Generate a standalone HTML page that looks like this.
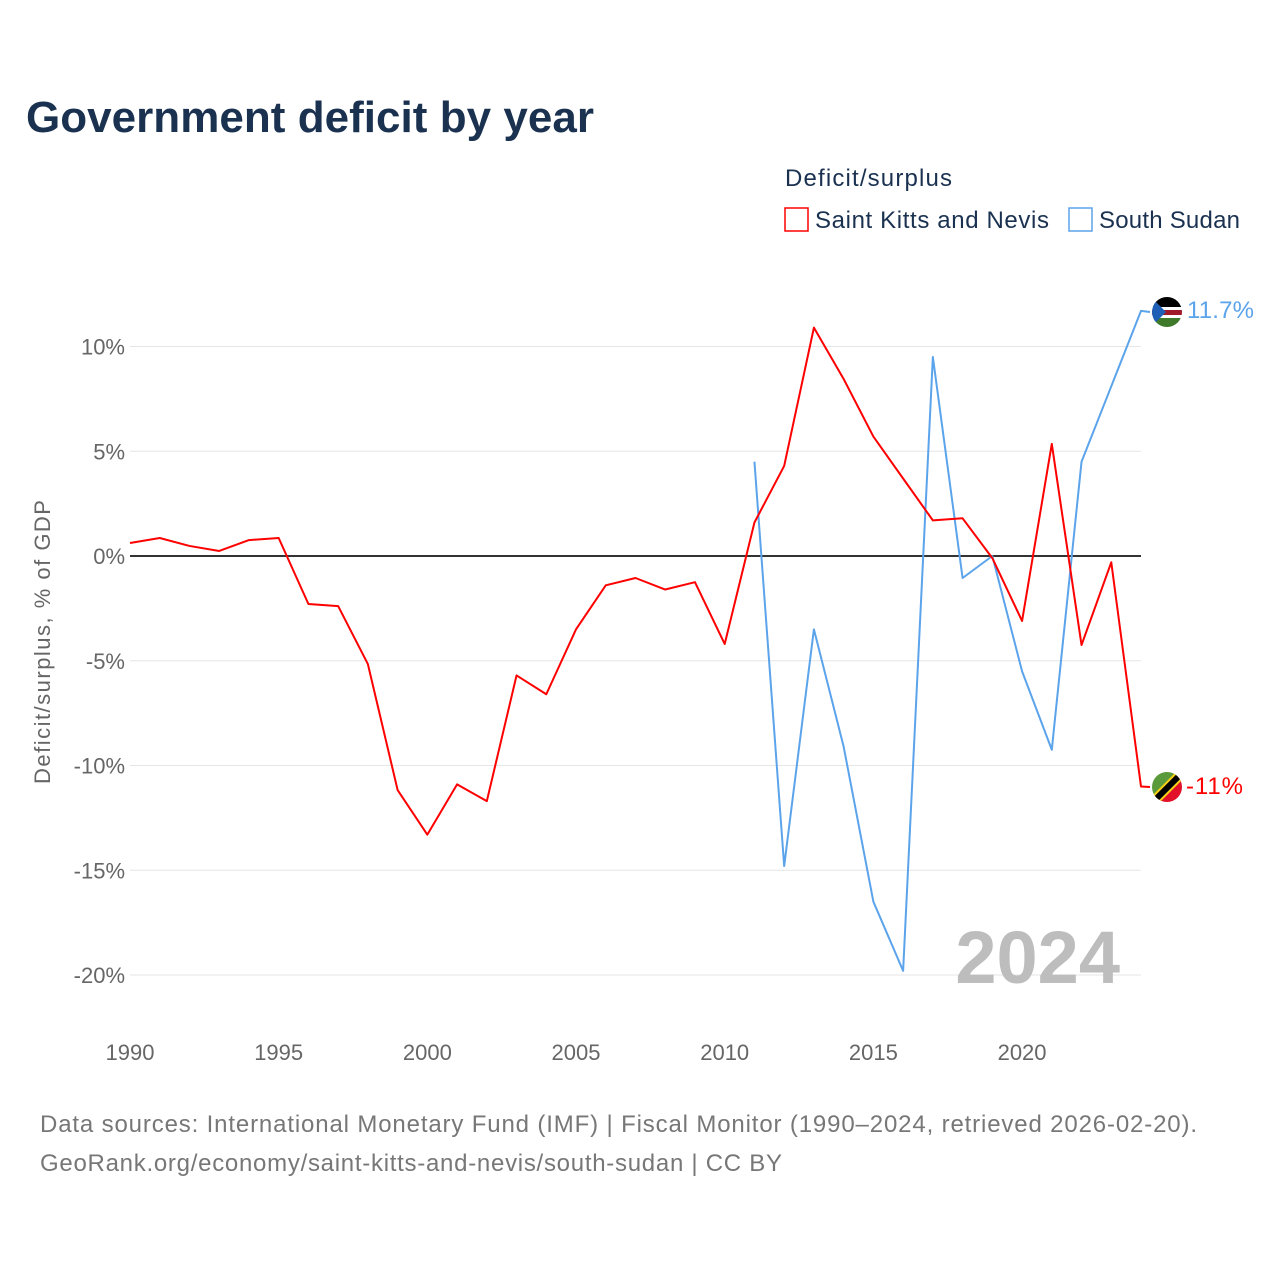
<!DOCTYPE html>
<html><head><meta charset="utf-8"><style>
body{margin:0;background:#fff;}
svg{display:block;font-family:"Liberation Sans",sans-serif;}
</style></head><body>
<svg id="chart" width="1280" height="1280" viewBox="0 0 1280 1280">
<text x="26" y="132" font-size="44" font-weight="bold" fill="#1a3150" textLength="568">Government deficit by year</text>
<g>
<text x="785" y="186" font-size="24" fill="#1a3150" textLength="167">Deficit/surplus</text>
<g><rect x="785" y="208" width="23" height="23" fill="none" stroke="#ff0000" stroke-width="1.5"/><text x="815" y="228" font-size="24" fill="#1a3150" textLength="234">Saint Kitts and Nevis</text></g>
<g><rect x="1069" y="208" width="23" height="23" fill="none" stroke="#5ba3eb" stroke-width="1.5"/><text x="1099" y="228" font-size="24" fill="#1a3150" textLength="141">South Sudan</text></g>
</g>
<text transform="translate(50,642) rotate(-90)" text-anchor="middle" font-size="22" fill="#666" textLength="284">Deficit/surplus, % of GDP</text>
<g id="grid"></g><g id="ticks"></g><g id="lines"></g>
<text x="1120" y="983" text-anchor="end" font-size="74" font-weight="bold" fill="#bdbdbd">2024</text>
<g>
<clipPath id="c1"><circle cx="1167" cy="312" r="15"/></clipPath>
<g clip-path="url(#c1)"><rect x="1150" y="296" width="34" height="11" fill="#000"/><rect x="1150" y="307" width="34" height="3" fill="#fff"/><rect x="1150" y="310" width="34" height="5" fill="#a01a2a"/><rect x="1150" y="315" width="34" height="3" fill="#fff"/><rect x="1150" y="318" width="34" height="12" fill="#3f7a2a"/><polygon points="1150,296 1166,312 1150,328" fill="#1f5fb5"/></g></g>
<g>
<clipPath id="c2"><circle cx="1167" cy="787" r="15"/></clipPath>
<g clip-path="url(#c2)"><polygon points="1150,770 1185,770 1150,805" fill="#5b9a3a"/><polygon points="1185,770 1185,805 1150,805" fill="#e3102a"/><line x1="1150" y1="805" x2="1185" y2="770" stroke="#f7d117" stroke-width="10"/><line x1="1150" y1="805" x2="1185" y2="770" stroke="#000" stroke-width="6"/></g></g>
<text x="1187" y="318" font-size="24" fill="#5ba3eb" textLength="67">11.7%</text>
<text x="1186" y="794" font-size="24" fill="#ff0000" textLength="57">-11%</text>
<text x="40" y="1132" font-size="24" fill="#777" textLength="1157">Data sources: International Monetary Fund (IMF) | Fiscal Monitor (1990–2024, retrieved 2026-02-20).</text>
<text x="40" y="1171" font-size="24" fill="#777" textLength="742">GeoRank.org/economy/saint-kitts-and-nevis/south-sudan | CC BY</text>
</svg>
<script>
const yTicks=[10,5,0,-5,-10,-15,-20];
const yTickLabels=["10%","5%","0%","-5%","-10%","-15%","-20%"];
const xTicks=[1990,1995,2000,2005,2010,2015,2020];
const skYears=[1990,1991,1992,1993,1994,1995,1996,1997,1998,1999,2000,2001,2002,2003,2004,2005,2006,2007,2008,2009,2010,2011,2012,2013,2014,2015,2016,2017,2018,2019,2020,2021,2022,2023,2024];
const skValues=[0.62,0.86,0.48,0.24,0.76,0.86,-2.29,-2.39,-5.16,-11.17,-13.3,-10.9,-11.7,-5.7,-6.6,-3.5,-1.4,-1.05,-1.6,-1.25,-4.2,1.6,4.3,10.9,8.45,5.7,3.7,1.7,1.8,-0.1,-3.1,5.35,-4.25,-0.3,-11.0];
const ssYears=[2011,2012,2013,2014,2015,2016,2017,2018,2019,2020,2021,2022,2023,2024];
const ssValues=[4.5,-14.8,-3.5,-9.1,-16.5,-19.8,9.5,-1.05,0,-5.5,-9.25,4.5,8.1,11.7];
const NS='http://www.w3.org/2000/svg';
const x=yr=>130+(yr-1990)*(1141-130)/34;
const y=v=>556-v*20.95;
function mk(tag,attrs,parent){const e=document.createElementNS(NS,tag);for(const k in attrs)e.setAttribute(k,attrs[k]);document.getElementById(parent).appendChild(e);return e;}
yTicks.forEach((t,i)=>{
  const g=mk('line',{x1:130,x2:1141,y1:y(t),y2:y(t),stroke:t===0?'#333':'#e6e6e6','stroke-width':t===0?2:1},'grid');
  
  
  const l=mk('text',{x:125,y:y(t)+8,'text-anchor':'end','font-size':22,fill:'#666'},'ticks');
  l.textContent=yTickLabels[i];
  
  
});
xTicks.forEach(t=>{
  const l=mk('text',{x:x(t),y:1060,'text-anchor':'middle','font-size':22,fill:'#666'},'ticks');
  l.textContent=t;
  
  
});
function line(years,vals,color,name,endY){
  let d=years.map((yr,i)=>(i?'L':'M')+x(yr)+','+y(vals[i])).join(' ');
  d+=' L1150,'+endY;
  const p=mk('path',{d:d,fill:'none',stroke:color,'stroke-width':2,'stroke-linejoin':'round'},'lines');
  
  
}
line(ssYears,ssValues,'#5ba3eb','line-south-sudan',312);
line(skYears,skValues,'#ff0000','line-saint-kitts',787);
</script>
</body></html>
